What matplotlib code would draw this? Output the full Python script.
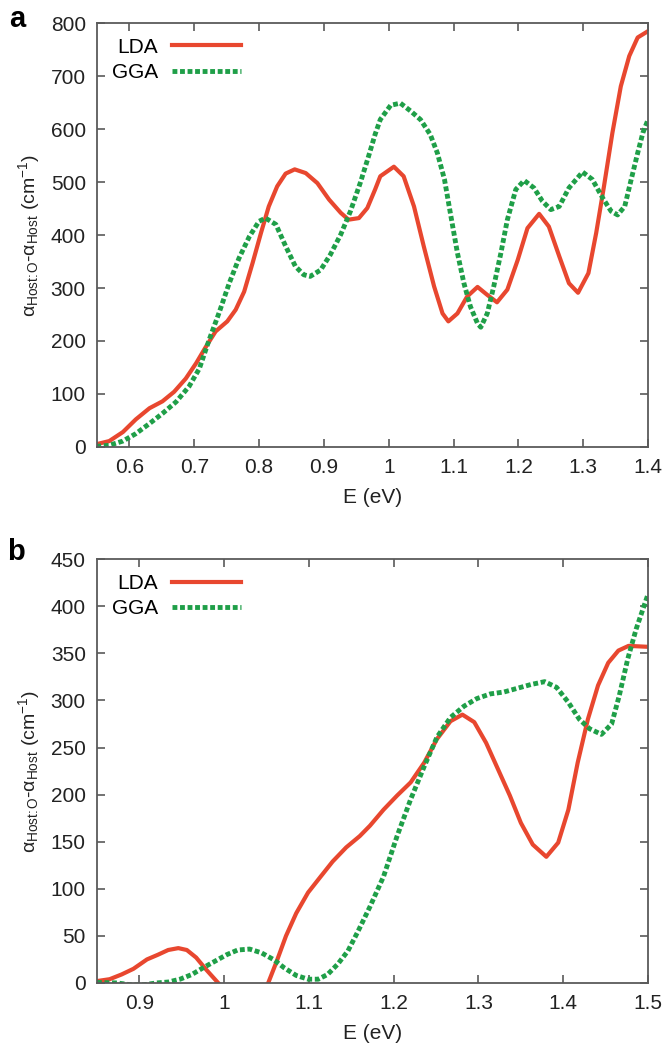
import matplotlib
matplotlib.use("Agg")
from matplotlib import pyplot as plt
from matplotlib.ticker import FuncFormatter, MultipleLocator

plt.rcParams['font.family'] = ['Liberation Sans', 'DejaVu Sans']
plt.rcParams['mathtext.fontset'] = 'custom'
plt.rcParams['mathtext.rm'] = 'Liberation Sans'
plt.rcParams['mathtext.it'] = 'Liberation Sans:italic'

# panel a
e_a_lda = [0.549, 0.569, 0.590, 0.610, 0.631, 0.651, 0.669, 0.687, 0.703, 0.718,
           0.733, 0.751, 0.764, 0.777, 0.790, 0.803, 0.815, 0.828, 0.841, 0.855,
           0.872, 0.890, 0.908, 0.926, 0.938, 0.954, 0.967, 0.979, 0.987, 1.008,
           1.023, 1.039, 1.054, 1.070, 1.083, 1.092, 1.106, 1.121, 1.137, 1.152,
           1.167, 1.183, 1.199, 1.214, 1.232, 1.247, 1.263, 1.278, 1.292, 1.308,
           1.320, 1.332, 1.345, 1.358, 1.371, 1.384, 1.400]
a_lda = [5, 11, 28, 52, 73, 86, 104, 129, 158, 189,
         218, 237, 259, 293, 347, 404, 454, 492, 516, 524,
         517, 498, 467, 442, 429, 432, 451, 486, 511, 529,
         511, 454, 379, 303, 252, 237, 252, 284, 302, 287,
         273, 297, 353, 413, 440, 416, 360, 309, 291, 328,
         404, 492, 593, 681, 738, 773, 785]

e_a_gga = [0.549, 0.569, 0.590, 0.610, 0.631, 0.651, 0.672, 0.692, 0.708, 0.723,
           0.738, 0.754, 0.769, 0.785, 0.800, 0.810, 0.826, 0.841, 0.856, 0.869,
           0.879, 0.895, 0.910, 0.926, 0.941, 0.956, 0.969, 0.979, 0.987, 1.003,
           1.018, 1.034, 1.049, 1.064, 1.075, 1.086, 1.096, 1.106, 1.116, 1.126,
           1.137, 1.142, 1.152, 1.162, 1.173, 1.183, 1.196, 1.209, 1.224, 1.237,
           1.250, 1.263, 1.278, 1.299, 1.314, 1.330, 1.343, 1.353, 1.364, 1.374,
           1.384, 1.392, 1.400]
a_gga = [1, 3, 11, 25, 44, 63, 85, 114, 148, 202,
         252, 309, 356, 397, 426, 432, 420, 379, 341, 325,
         322, 334, 363, 401, 445, 498, 549, 590, 618, 645,
         649, 634, 618, 590, 555, 505, 435, 366, 309, 265,
         233, 226, 252, 303, 366, 429, 486, 503, 489, 464,
         448, 454, 489, 519, 505, 470, 445, 438, 454, 505,
         555, 593, 618]

# panel b
e_b_lda = [0.850, 0.865, 0.879, 0.893, 0.909, 0.922, 0.934, 0.946, 0.956, 0.967,
           0.979, 0.993, 1.010, 1.022, 1.040, 1.052, 1.062, 1.073, 1.085, 1.099,
           1.113, 1.128, 1.144, 1.160, 1.172, 1.188, 1.204, 1.220, 1.236, 1.251,
           1.267, 1.281, 1.295, 1.309, 1.323, 1.337, 1.350, 1.364, 1.380, 1.394,
           1.406, 1.417, 1.429, 1.441, 1.453, 1.465, 1.477, 1.500]
b_lda = [2, 4, 9, 15, 25, 30, 35, 37, 35, 27,
         14, 0, -15, -22, -14, 0, 23, 50, 74, 96,
         112, 129, 144, 156, 167, 184, 199, 213, 234, 259,
         278, 285, 277, 255, 227, 199, 170, 147, 134, 149,
         184, 234, 280, 316, 340, 353, 358, 357]

e_b_gga = [0.850, 0.862, 0.874, 0.890, 0.905, 0.920, 0.934, 0.948, 0.962, 0.975,
           0.989, 1.003, 1.016, 1.030, 1.044, 1.058, 1.071, 1.085, 1.099, 1.111,
           1.122, 1.134, 1.146, 1.158, 1.172, 1.188, 1.204, 1.220, 1.236, 1.251,
           1.267, 1.283, 1.298, 1.314, 1.330, 1.346, 1.362, 1.378, 1.392, 1.406,
           1.419, 1.431, 1.445, 1.457, 1.466, 1.476, 1.486, 1.500]
b_gga = [0.5, 0.3, 0, -2, -2, 0, 1, 4, 9, 16,
         23, 30, 35, 36, 32, 25, 16, 8, 4, 4,
         9, 20, 34, 55, 81, 113, 156, 195, 230, 261,
         282, 294, 302, 307, 309, 313, 317, 320, 314, 298,
         280, 270, 264, 275, 305, 344, 376, 413]

red = '#e8472f'
green = '#1f9f48'
frame = '#5a5a5a'
ink = '#222222'

fig = plt.figure(figsize=(6.64, 10.54), dpi=100)
ax_a = fig.add_axes([0.146, 0.576, 0.830, 0.402])
ax_b = fig.add_axes([0.146, 0.0674, 0.830, 0.402])

ylab = r'α$_{\mathrm{Host\!:\!O}}$-α$_{\mathrm{Host}}$ (cm$^{-1}$)'
fmt = FuncFormatter(lambda v, p: f'{v:g}')

panels = [
    (ax_a, e_a_lda, a_lda, e_a_gga, a_gga, (0.55, 1.4), (0, 800), 100, 'a', 0.044),
    (ax_b, e_b_lda, b_lda, e_b_gga, b_gga, (0.85, 1.5), (0, 450), 50, 'b', 0.050),
]

for ax, xl, yl, xg, yg, xlim, ylim, ystep, tag, ty in panels:
    ax.plot(xl, yl, color=red, lw=3, label='LDA', solid_joinstyle='round')
    ax.plot(xg, yg, color=green, lw=3.5, ls=(0, (1.0, 0.55)), label='GGA')
    ax.set_xlim(*xlim)
    ax.set_ylim(*ylim)
    ax.xaxis.set_major_locator(MultipleLocator(0.1))
    ax.yaxis.set_major_locator(MultipleLocator(ystep))
    ax.xaxis.set_major_formatter(fmt)
    ax.tick_params(direction='in', length=6, width=1.2, color=frame,
                   top=True, right=True, labelsize=15, pad=8, labelcolor=ink)
    for s in ax.spines.values():
        s.set_color(frame)
        s.set_linewidth(1.3)
    ax.set_xlabel('E (eV)', fontsize=15, color=ink, labelpad=8)
    ax.set_ylabel(ylab, fontsize=14, color=ink, labelpad=6)
    ax.legend(loc='upper left', frameon=False, markerfirst=False, fontsize=15,
              handlelength=3.3, handletextpad=0.7, borderaxespad=0.3,
              labelspacing=0.3)
    ax.text(-0.13, 1.0 + ty, tag, transform=ax.transAxes, fontsize=21,
            fontweight='bold', va='top', ha='right')

fig.savefig('out.png', dpi=100)
